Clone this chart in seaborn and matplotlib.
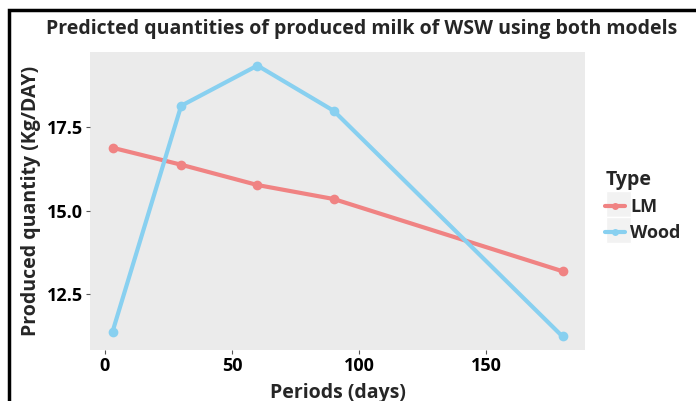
import numpy as np
import pandas as pd
import seaborn as sns
import matplotlib.pyplot as plt
from matplotlib.lines import Line2D
from matplotlib.patches import Rectangle

# values
periods = [3, 30, 60, 90, 180]
lm_vals = [16.89, 16.38, 15.77, 15.35, 13.18]
wood_vals = [11.36, 18.15, 19.36, 18.00, 11.22]
types = ["LM", "Wood"]
y_ticks = [12.5, 15.0, 17.5]
x_ticks = [0, 50, 100, 150]

df = pd.DataFrame({
    "Periods": periods * 2,
    "Quantity": lm_vals + wood_vals,
    "Type": ["LM"] * len(periods) + ["Wood"] * len(periods),
})

sns.set_theme(style="white")
plt.rcParams['font.family'] = ['Open Sans', 'DejaVu Sans']
plt.rcParams['font.weight'] = 'bold'

pal = {"LM": "#F08383", "Wood": "#88D0F0"}

W, H = 696, 401
fig = plt.figure(figsize=(W / 100, H / 100), dpi=100)
ax = fig.add_axes([90 / W, 1 - 350 / H, (585 - 90) / W, (350 - 52) / H])
ax.set_facecolor("#EBEBEB")

sns.lineplot(data=df, x="Periods", y="Quantity", hue="Type", palette=pal,
             marker="o", markersize=7, markeredgewidth=0, linewidth=3,
             ax=ax, legend=False)

# ggplot-like expansion
xr = max(periods) - min(periods)
ax.set_xlim(min(periods) - 0.05 * xr, max(periods) + 0.05 * xr)
allv = lm_vals + wood_vals
yr = max(allv) - min(allv)
ax.set_ylim(min(allv) - 0.05 * yr, max(allv) + 0.05 * yr)

ax.set_xticks(x_ticks)
ax.set_yticks(y_ticks)
ax.set_yticklabels([f"{v:.1f}" for v in y_ticks])
ax.tick_params(axis="both", length=3, width=0.8, color="#555555",
               labelsize=13, labelcolor="black", pad=2)
for lab in ax.get_xticklabels() + ax.get_yticklabels():
    lab.set_fontweight("bold")
for s in ax.spines.values():
    s.set_visible(False)
ax.tick_params(axis="x", bottom=True)
ax.tick_params(axis="y", left=True)

ax.set_xlabel("Periods (days)", fontsize=14, fontweight="bold", labelpad=6)
ax.set_ylabel("Produced quantity (Kg/DAY)", fontsize=14, fontweight="bold", labelpad=4)
fig.text(362 / W, 1 - 29 / H, "Predicted quantities of produced milk of WSW using both models",
         ha="center", va="center", fontsize=14, fontweight="bold")

# legend
handles = [Line2D([0], [0], color=pal[t], marker="o", markersize=5,
                  markeredgewidth=0, linewidth=3) for t in types]
for i in range(len(types)):
    fig.patches.append(Rectangle((606 / W, 1 - (217 + 26 * i) / H), 25 / W, 26 / H,
                                 transform=fig.transFigure, facecolor="#F2F2F2",
                                 edgecolor="white", linewidth=1, zorder=0))
leg = fig.legend(handles, types, title="Type", loc="upper left",
                 bbox_to_anchor=(598 / W, 1 - 163 / H), frameon=False,
                 handlelength=1.1, handletextpad=0.3, labelspacing=0.45,
                 borderaxespad=0, prop={"size": 13, "weight": "bold"})
leg.get_title().set_fontsize(14)
leg.get_title().set_fontweight("bold")
leg._legend_box.align = "left"

# outer frame of the original figure
frame = fig.add_axes([0, 0, 1, 1], zorder=10)
frame.set_axis_off()
frame.patch.set_alpha(0)
frame.set_xlim(0, W)
frame.set_ylim(H, 0)
frame.plot([9, 9, W + 5], [H + 5, 9.5, 9.5], color="black", linewidth=2.5,
           solid_joinstyle="miter", clip_on=False)

fig.savefig("out.png", dpi=100)
